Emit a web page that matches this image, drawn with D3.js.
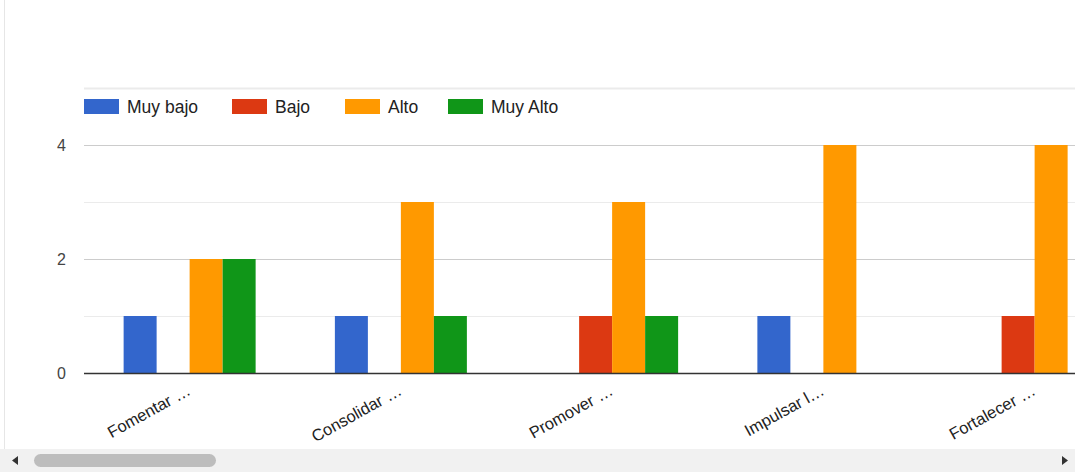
<!DOCTYPE html>
<html>
<head>
<meta charset="utf-8">
<script src="https://cdn.jsdelivr.net/npm/d3@7"></script>
<style>
  html, body { margin: 0; padding: 0; background: #fff; overflow: hidden; }
  svg { display: block; font-family: "Liberation Sans", Arial, sans-serif; }
</style>
</head>
<body>
<svg id="chart" width="1075" height="472"></svg>
<script>
// Categories (truncated objective names) and series counts
const categories = ["Fomentar …", "Consolidar …", "Promover …", "Impulsar l…", "Fortalecer …"];
const seriesNames = ["Muy bajo", "Bajo", "Alto", "Muy Alto"];
const muyBajo = [1, 1, 0, 1, 0];
const bajo    = [0, 0, 1, 0, 1];
const alto    = [2, 3, 3, 4, 4];
const muyAlto = [2, 1, 1, 0, 0];
const yTicks  = [0, 2, 4];
const yGrid   = [1, 2, 3, 4, 5];

const colors = ["#3366cc", "#dc3912", "#ff9900", "#109618"];
const seriesValues = [muyBajo, bajo, alto, muyAlto];

const W = 1075, H = 472;
const svg = d3.select("#chart");

// plot geometry
const plotLeft = 84, plotTop = 88, plotBottom = 373;
const step = 211.25;
const groupW = 132;

const x0 = d3.scaleBand().domain(categories)
  .range([plotLeft, plotLeft + step * categories.length]).padding(0);
const x1 = d3.scaleBand().domain(seriesNames).range([0, groupW]).padding(0);
const y = d3.scaleLinear().domain([0, 5]).range([plotBottom, plotTop]);

// thin frame line on the left edge
svg.append("line").attr("x1", 4.5).attr("x2", 4.5).attr("y1", 0).attr("y2", 449)
  .attr("stroke", "#e6e6e6").attr("stroke-width", 1);

// gridlines
svg.append("g").selectAll("line").data(yGrid).join("line")
  .attr("x1", plotLeft).attr("x2", W)
  .attr("y1", d => Math.round(y(d)) + 0.5).attr("y2", d => Math.round(y(d)) + 0.5)
  .attr("stroke", d => d % 2 === 0 ? "#cccccc" : "#ebebeb")
  .attr("stroke-width", d => d === 5 ? 2 : 1);

// y axis labels
const yAxis = d3.axisLeft(y).tickValues(yTicks).tickSize(0).tickPadding(0).tickFormat(d3.format("d"));
const ya = svg.append("g").attr("transform", `translate(${66},0)`).call(yAxis);
ya.select(".domain").remove();
ya.selectAll("text").attr("font-size", 16).attr("fill", "#444")
  .attr("font-family", "Liberation Sans, Arial, sans-serif");

// bars
const groups = svg.append("g").selectAll("g").data(categories).join("g")
  .attr("transform", c => `translate(${x0(c) + (x0.bandwidth() - groupW) / 2},0)`);
groups.selectAll("rect")
  .data((c, i) => seriesNames.map((s, j) => ({ s, j, v: seriesValues[j][i] })))
  .join("rect")
  .attr("x", d => x1(d.s))
  .attr("width", x1.bandwidth())
  .attr("y", d => y(d.v))
  .attr("height", d => y(0) - y(d.v))
  .attr("fill", d => colors[d.j]);

// baseline
svg.append("line").attr("x1", plotLeft).attr("x2", W)
  .attr("y1", plotBottom + 0.5).attr("y2", plotBottom + 0.5)
  .attr("stroke", "#333").attr("stroke-width", 1.5);

// x axis labels, slanted
const xAxis = d3.axisBottom(x0).tickSize(0).tickPadding(0);
const xa = svg.append("g").attr("transform", `translate(0,${plotBottom})`).call(xAxis);
xa.select(".domain").remove();
xa.selectAll("text")
  .attr("font-size", 16.5).attr("fill", "#222")
  .attr("font-family", "Liberation Sans, Arial, sans-serif")
  .attr("text-anchor", "end")
  .attr("dy", 0)
  .attr("transform", "translate(2,21) rotate(-29)");

// legend
const legendX = [84, 232, 345, 448];
const lg = svg.append("g").selectAll("g").data(seriesNames).join("g")
  .attr("transform", (d, i) => `translate(${legendX[i]},99)`);
lg.append("rect").attr("width", 35).attr("height", 15)
  .attr("fill", (d, i) => colors[i]);
lg.append("text").attr("x", 43).attr("y", 14)
  .attr("font-size", 17.5).attr("fill", "#222").text(d => d);

// horizontal scrollbar
const sb = svg.append("g").attr("transform", "translate(0,449)");
sb.append("rect").attr("width", W).attr("height", 23).attr("fill", "#f1f1f1");
sb.append("rect").attr("x", 34).attr("y", 5).attr("width", 182).attr("height", 13)
  .attr("rx", 6.5).attr("fill", "#bdbdbd");
sb.append("path").attr("d", "M12,11.5 L18,7 L18,16 Z").attr("fill", "#333");
sb.append("path").attr("d", "M1062,7 L1068,11.5 L1062,16 Z").attr("fill", "#333");
</script>
</body>
</html>
